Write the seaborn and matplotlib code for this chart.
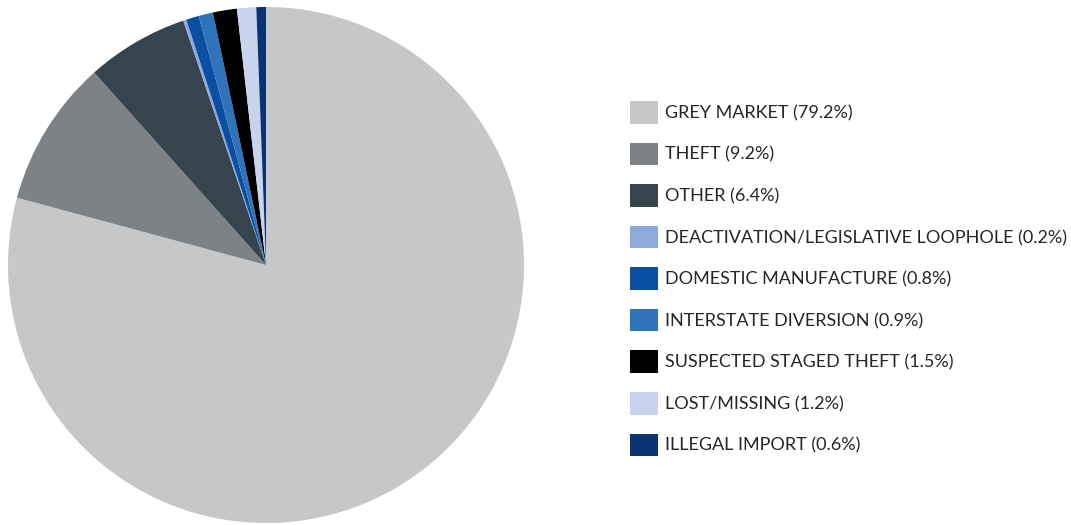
import matplotlib
matplotlib.use("Agg")
import matplotlib.pyplot as plt
import seaborn as sns
from matplotlib.patches import Patch

categories = [
    "GREY MARKET",
    "THEFT",
    "OTHER",
    "DEACTIVATION/LEGISLATIVE LOOPHOLE",
    "DOMESTIC MANUFACTURE",
    "INTERSTATE DIVERSION",
    "SUSPECTED STAGED THEFT",
    "LOST/MISSING",
    "ILLEGAL IMPORT",
]
shares = [79.2, 9.2, 6.4, 0.2, 0.8, 0.9, 1.5, 1.2, 0.6]
colors = [
    "#C6C7C9", "#7D8286", "#36444E", "#8EA9DB", "#0B4FA3",
    "#2F73BA", "#000000", "#C8D4ED", "#0A3374",
]

sns.set_theme(style="white")
plt.rcParams["font.family"] = ["Lato", "DejaVu Sans"]

fig = plt.figure(figsize=(10.71, 5.25), dpi=100)
ax = fig.add_axes([(266 - 258) / 1071, (260 - 258) / 525, 516 / 1071, 516 / 525])
ax.pie(shares, colors=colors, startangle=90, counterclock=False,
       wedgeprops=dict(linewidth=0))
ax.set_xlim(-1, 1)
ax.set_ylim(-1, 1)
ax.set_aspect("equal")

handles = [Patch(facecolor=c, edgecolor="none") for c in colors]
labels = [f"{name} ({v:.1f}%)" for name, v in zip(categories, shares)]
fig.legend(handles, labels, loc="upper left",
           bbox_to_anchor=(630 / 1071, 1 - 101 / 525),
           frameon=False, fontsize=13,
           handlelength=1.55, handleheight=1.55,
           handletextpad=0.4, labelspacing=1.05,
           borderpad=0, borderaxespad=0)

fig.savefig("out.png", dpi=100)
